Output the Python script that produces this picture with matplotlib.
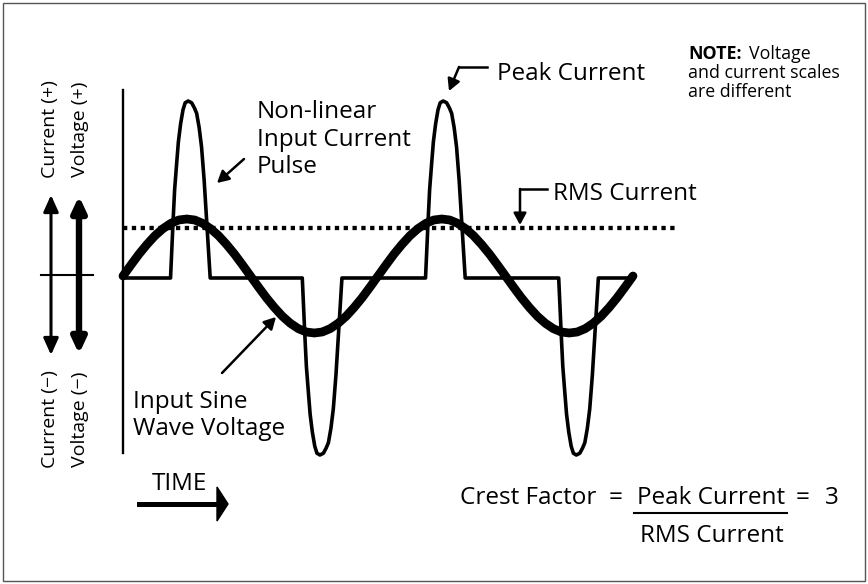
import numpy as np
import matplotlib
matplotlib.use('Agg')
import matplotlib.pyplot as plt
from matplotlib.patches import Polygon, Rectangle
from matplotlib.lines import Line2D

# input sine voltage, read every 11.25 degrees over two cycles
voltage_deg = [0, 11.25, 22.5, 33.75, 45, 56.25, 67.5, 78.75, 90, 101.25, 112.5, 123.75,
               135, 146.25, 157.5, 168.75, 180, 191.25, 202.5, 213.75, 225, 236.25, 247.5,
               258.75, 270, 281.25, 292.5, 303.75, 315, 326.25, 337.5, 348.75, 360,
               371.25, 382.5, 393.75, 405, 416.25, 427.5, 438.75, 450, 461.25, 472.5,
               483.75, 495, 506.25, 517.5, 528.75, 540, 551.25, 562.5, 573.75, 585,
               596.25, 607.5, 618.75, 630, 641.25, 652.5, 663.75, 675, 686.25, 697.5,
               708.75, 720]
voltage_v = [0, 33, 65, 94, 120, 141, 157, 167, 170, 167, 157, 141,
             120, 94, 65, 33, 0, -33, -65, -94, -120, -141, -157,
             -167, -170, -167, -157, -141, -120, -94, -65, -33, 0,
             33, 65, 94, 120, 141, 157, 167, 170, 167, 157,
             141, 120, 94, 65, 33, 0, -33, -65, -94, -120,
             -141, -157, -167, -170, -167, -157, -141, -120, -94, -65,
             -33, 0]

# non-linear current pulses (shape read from the first pulse)
pulse_center_deg = [92, 278, 452, 640]
pulse_peak_a = [10, -10, 10, -10]
pulse_offset_deg = [-24.9, -21.2, -19.1, -16.4, -13.8, -10.7, -7.3, -4.2, 0,
                    4.9, 8.9, 12.0, 15.5, 18.9, 22.6, 26.0, 31.1]
pulse_fraction = [0, 0.33, 0.5, 0.64, 0.77, 0.87, 0.95, 0.99, 1,
                  0.99, 0.96, 0.93, 0.85, 0.74, 0.55, 0.33, 0]
rms_current_a = 2.8

W, H = 868, 584
X0, PX_PER_DEG = 123, 510 / 720
I0, PX_PER_A = 278, 17.7
V0, PX_PER_V = 276, 57 / 170

plt.rcParams['font.family'] = ['Open Sans', 'DejaVu Sans']

fig = plt.figure(figsize=(W / 100, H / 100), dpi=100)
ax = fig.add_axes([0, 0, 1, 1])
axv = ax.twinx()
for a in (ax, axv):
    a.axis('off')
ax.set_xlim(-X0 / PX_PER_DEG, (W - X0) / PX_PER_DEG)
ax.set_ylim(-(H - I0) / PX_PER_A, I0 / PX_PER_A)
axv.set_ylim(-(H - V0) / PX_PER_V, V0 / PX_PER_V)

# current waveform
cur_t, cur_i = [0], [0]
for c, pk in zip(pulse_center_deg, pulse_peak_a):
    for off, f in zip(pulse_offset_deg, pulse_fraction):
        cur_t.append(c + off)
        cur_i.append(pk * f)
cur_t.append(720)
cur_i.append(0)
ax.plot(cur_t, cur_i, color='black', lw=2.6, solid_joinstyle='round')
ax.plot([0, 785], [rms_current_a, rms_current_a], color='black', lw=3.1,
        linestyle=(0, (1.0, 1.05)), dash_capstyle='butt')
axv.plot(voltage_deg, voltage_v, color='black', lw=6.3,
         solid_capstyle='round', solid_joinstyle='round', zorder=5)


def fp(x, y):
    return (x, H - y)


def label(x, y, s, **kw):
    kw.setdefault('fontsize', 17.5)
    kw.setdefault('va', 'baseline')
    fig.text(x / W, 1 - y / H, s, **kw)


def line(pts, lw=1.5):
    xs = [p[0] / W for p in pts]
    ys = [1 - p[1] / H for p in pts]
    fig.add_artist(Line2D(xs, ys, color='black', lw=lw, transform=fig.transFigure))


def arrow(tail, tip, style='-|>,head_length=0.7,head_width=0.38', lw=1.8, ms=10):
    ax.annotate('', xy=fp(*tip), xytext=fp(*tail), xycoords='figure pixels',
                textcoords='figure pixels',
                arrowprops=dict(arrowstyle=style, lw=lw, color='black',
                                mutation_scale=ms, shrinkA=0, shrinkB=0))


# frame
fig.add_artist(Rectangle((3 / W, 3 / H), 862 / W, 578 / H, transform=fig.transFigure,
                         fill=False, ec='#555555', lw=1))

# axes
line([(123, 90), (123, 453)], lw=1.7)
line([(41, 275), (93, 275)], lw=1.5)
arrow((51, 195), (51, 355), style='<|-|>,head_length=1.0,head_width=0.45', lw=2.2)
arrow((79, 196), (79, 354), style='<|-|>,head_length=0.9,head_width=0.42', lw=4.6)
for x, s in [(50, 'Current (+)'), (80, 'Voltage (+)')]:
    fig.text(x / W, 1 - 129 / H, s, rotation=90, ha='center', va='center', fontsize=14)
for x, s in [(50, 'Current (\u2212)'), (80, 'Voltage (\u2212)')]:
    fig.text(x / W, 1 - 419 / H, s, rotation=90, ha='center', va='center', fontsize=14)

# callouts
label(497, 80, 'Peak Current')
line([(487, 67), (459, 67)], lw=1.8)
arrow((459, 67), (449, 91))

label(553, 200, 'RMS Current')
line([(547, 189), (520, 189)], lw=1.8)
arrow((520, 189), (520, 225))

for y, s in [(118, 'Non-linear'), (146, 'Input Current'), (173, 'Pulse')]:
    label(257, y, s)
arrow((244, 159), (217, 183))

for y, s in [(408, 'Input Sine'), (435, 'Wave Voltage')]:
    label(133, y, s)
arrow((222, 373), (276, 317))

label(688, 59, 'NOTE:', fontsize=12.8, fontweight='bold')
label(749, 59, 'Voltage', fontsize=12.8)
label(688, 78, 'and current scales', fontsize=12.8)
label(688, 97, 'are different', fontsize=12.8)

# time arrow
label(152, 490, 'TIME')
line([(139, 504), (219, 504)], lw=3.6)
fig.add_artist(Polygon([(217 / W, 1 - 487 / H), (217 / W, 1 - 521 / H), (228 / W, 1 - 504 / H)],
                       closed=True, color='black', transform=fig.transFigure))

# crest factor
label(460, 504, 'Crest Factor')
label(615.5, 504, '=', ha='center')
label(637, 504, 'Peak Current')
line([(634, 513), (787, 513)], lw=1.5)
label(640, 542, 'RMS Current')
label(803, 504, '=', ha='center')
label(825, 504, '3')

fig.savefig('out.png', dpi=100)
